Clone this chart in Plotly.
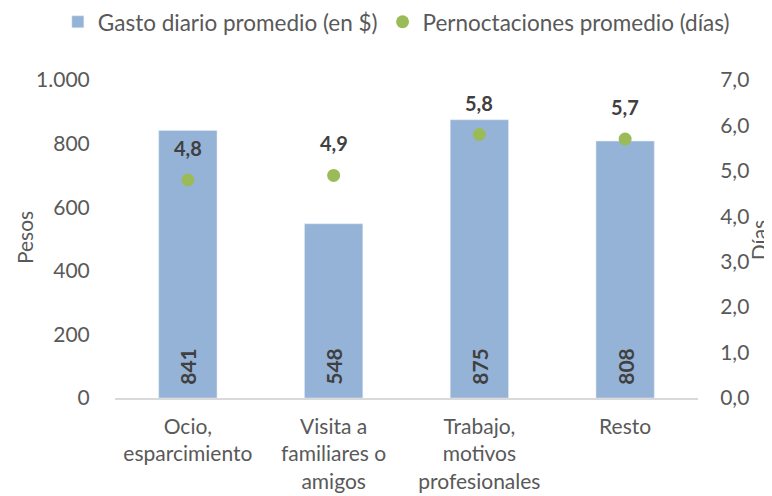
import plotly.graph_objects as go

categorias = ["Ocio,<br>esparcimiento", "Visita a<br>familiares o<br>amigos",
              "Trabajo,<br>motivos<br>profesionales", "Resto"]
gasto = [841, 548, 875, 808]
pernoctaciones = [4.8, 4.9, 5.8, 5.7]
ticks_izq = [0, 200, 400, 600, 800, 1000]
ticks_izq_txt = ["0", "200", "400", "600", "800", "1.000"]
ticks_der = [0, 1, 2, 3, 4, 5, 6, 7]
ticks_der_txt = ["0,0", "1,0", "2,0", "3,0", "4,0", "5,0", "6,0", "7,0"]

FONT = "Lato, 'Open Sans', sans-serif"
GRAY = "#595959"
DARK = "#404040"
FS = 21

fig = go.Figure()
fig.add_trace(go.Bar(
    x=categorias, y=gasto, name="Gasto diario promedio (en $)",
    marker=dict(color="#95B3D7"), width=0.4,
    text=["\u00a0\u00a0" + str(v) for v in gasto], textposition="inside",
    insidetextanchor="start", textangle=-90,
    textfont=dict(family=FONT, size=21, color=DARK, weight="bold"),
    cliponaxis=False,
))
fig.add_trace(go.Scatter(
    x=categorias, y=pernoctaciones, name="Pernoctaciones promedio (días)",
    mode="markers", yaxis="y2",
    marker=dict(color="#9BBB59", size=13),
))
for c, v in zip(categorias, pernoctaciones):
    fig.add_annotation(x=c, y=v, yref="y2", xref="x",
                       text=f"{v:.1f}".replace(".", ","), showarrow=False,
                       yshift=32,
                       font=dict(family=FONT, size=20, color=DARK, weight="bold"))

# axis titles
fig.add_annotation(x=-0.156, y=0.503, xref="paper", yref="paper", text="Pesos",
                   textangle=-90, showarrow=False, xanchor="center", yanchor="middle",
                   font=dict(family=FONT, size=FS, color=GRAY))
fig.add_annotation(x=1.105, y=0.497, xref="paper", yref="paper", text="Días",
                   textangle=-90, showarrow=False, xanchor="center", yanchor="middle",
                   font=dict(family=FONT, size=FS, color=GRAY))

fig.update_layout(
    width=772, height=496,
    margin=dict(l=107, r=82, t=72, b=106, autoexpand=False),
    paper_bgcolor="white", plot_bgcolor="white",
    font=dict(family=FONT, size=FS, color=GRAY),
    showlegend=True,
    legend=dict(orientation="h", x=-0.098, xanchor="left", y=1.182, yanchor="middle",
                font=dict(size=22.5, color=GRAY), itemwidth=30,
                tracegroupgap=0),
    xaxis=dict(showline=True, linecolor="#D9D9D9", linewidth=1.5,
               ticks="outside", ticklen=9, tickcolor="rgba(0,0,0,0)",
               tickfont=dict(size=21, color=GRAY)),
    yaxis=dict(range=[0, 1000], tickvals=ticks_izq, ticktext=ticks_izq_txt,
               showgrid=False, zeroline=False, showline=False,
               ticks="outside", ticklen=20, tickcolor="rgba(0,0,0,0)"),
    yaxis2=dict(range=[0, 7], tickvals=ticks_der, ticktext=ticks_der_txt,
                overlaying="y", side="right", showgrid=False, zeroline=False,
                showline=False, ticks="outside", ticklen=17,
                tickcolor="rgba(0,0,0,0)"),
)

fig.write_html("out.html")
